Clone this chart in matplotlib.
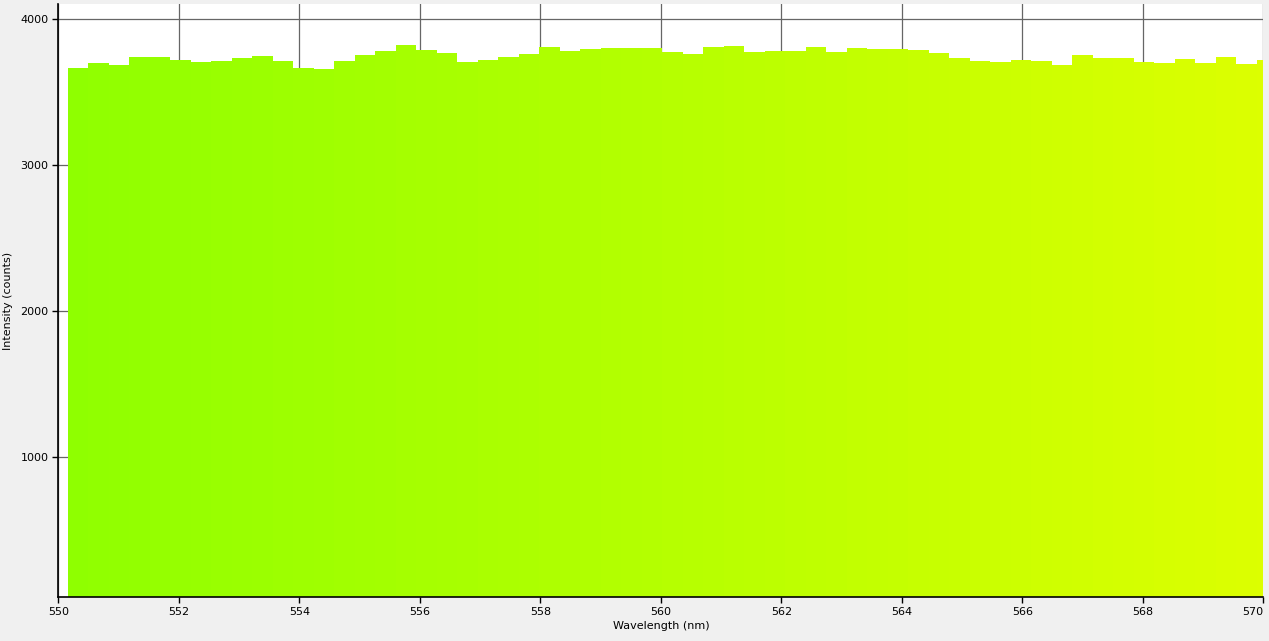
import numpy as np
import matplotlib
matplotlib.use("Agg")
import matplotlib.pyplot as plt

# spectrum bins (nm) and counts
bin_start = 550.156
bin_width = 0.3402
counts = [3666, 3701, 3687, 3742, 3742, 3721, 3708, 3714, 3735, 3749,
          3714, 3666, 3660, 3714, 3755, 3783, 3824, 3790, 3769, 3708,
          3721, 3742, 3762, 3810, 3783, 3797, 3803, 3803, 3803, 3776,
          3762, 3810, 3817, 3776, 3783, 3783, 3810, 3776, 3803, 3797,
          3797, 3790, 3769, 3735, 3714, 3708, 3721, 3714, 3687, 3755,
          3735, 3735, 3708, 3701, 3728, 3701, 3742, 3694, 3721]
x_ticks = [550, 552, 554, 556, 558, 560, 562, 564, 566, 568, 570]
y_ticks = [1000, 2000, 3000, 4000]

lefts = bin_start + bin_width * np.arange(len(counts))
centers = lefts + bin_width / 2

# green -> yellow, like the wavelength colouring in the original
def wl_color(w):
    t = (w - 550.0) / 20.0
    r = (142 + t * (220 - 142)) / 255.0
    return (r, 1.0, 0.0)

colors = [wl_color(c) for c in centers]

fig = plt.figure(figsize=(12.69, 6.41), dpi=100, facecolor="#f0f0f0")
ax = fig.add_axes([0.0459, 0.0686, 0.9497, 0.9252])
ax.set_facecolor("white")

ax.bar(lefts, counts, width=bin_width, align="edge", color=colors,
       edgecolor="none", linewidth=0, zorder=2)

ax.set_xlim(550, 570)
ax.set_ylim(41, 4103)
ax.set_xticks(x_ticks)
ax.set_yticks(y_ticks)
ax.grid(True, color="#666666", linewidth=0.9, zorder=1)
ax.set_axisbelow(True)

for s in ["top", "right"]:
    ax.spines[s].set_visible(False)
for s in ["left", "bottom"]:
    ax.spines[s].set_color("black")
    ax.spines[s].set_linewidth(1.2)
    ax.spines[s].set_zorder(3)

ax.tick_params(direction="out", length=4, width=1, colors="black", labelsize=8, pad=3)
# last label would run off the figure, so pull it in like the original
ax.get_xticklabels()[-1].set_horizontalalignment("right")
ax.set_xlabel("Wavelength (nm)", fontsize=8, labelpad=3)
ax.set_ylabel("Intensity (counts)", fontsize=8, labelpad=5)

fig.savefig("out.png", dpi=100, facecolor=fig.get_facecolor())
